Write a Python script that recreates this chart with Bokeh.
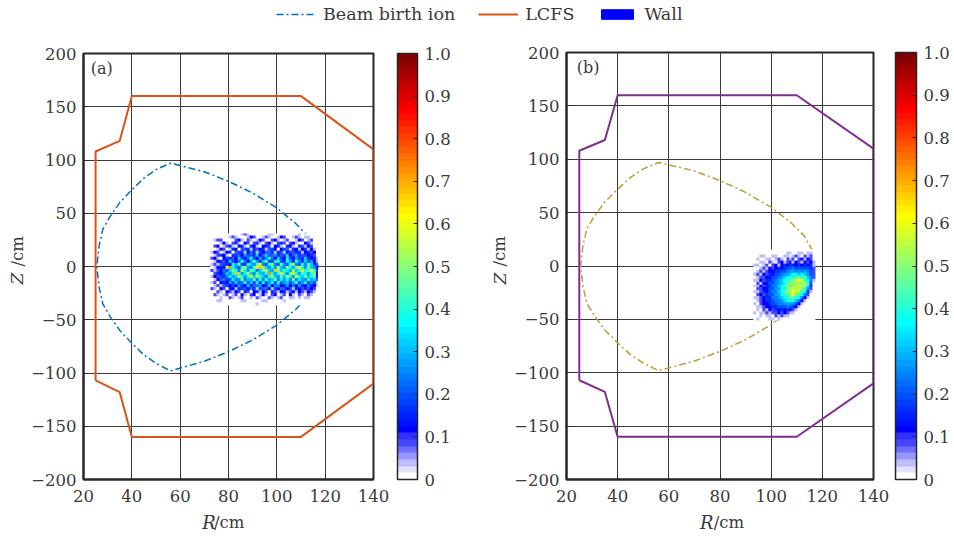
import numpy as np
from bokeh.embed import file_html
from bokeh.resources import INLINE
from bokeh.plotting import figure
from bokeh.layouts import column, row
from bokeh.models import (ColorBar, FixedTicker, Label, Legend, LegendItem,
                          LinearColorMapper, Range1d)

FONT = "DejaVu Serif"
TXT = "#3a3a3a"
DARK = "#262626"

x_ticks = [20, 40, 60, 80, 100, 120, 140]
y_ticks = [-200, -150, -100, -50, 0, 50, 100, 150, 200]
cb_ticks = [0, 0.1, 0.2, 0.3, 0.4, 0.5, 0.6, 0.7, 0.8, 0.9, 1.0]

wall_r = [25, 25, 35, 40, 110, 140, 140, 110, 40, 35, 25]
wall_z = [-107, 108, 118, 160, 160, 110, -110, -160, -160, -118, -107]

birth_r = [117, 116, 113, 108, 100, 90, 80, 70, 56, 50, 45, 40, 35, 31, 28, 26.5, 25.5,
           26.5, 28, 31, 35, 40, 45, 50, 56, 70, 80, 90, 100, 108, 113, 116, 117]
birth_z = [0, 15, 28, 40, 55, 69, 80, 89, 97, 91, 83, 72, 60, 47, 35, 20, 0,
           -20, -35, -47, -60, -72, -83, -91, -98, -89, -80, -69, -55, -40, -28, -15, 0]

# Intensity levels (unit = 0.04 of the colour scale), rows run from top to bottom
heat_unit = 0.04
heat_a_extent = [72.5, 117, -36.5, 31]
heat_a = [
    [0,0,0,0,0,0,0,0,0,0,1,2,1,0,0,0,0,0,0,1,1,0,0,0,0,0,0,0,0,1,0,0,0,0,0,0],
    [0,0,0,0,0,0,1,2,1,0,0,0,1,3,2,0,0,1,2,1,0,0,1,3,2,0,0,1,2,1,0,1,1,0,0,0],
    [0,1,2,2,0,0,0,0,2,3,1,0,2,1,0,1,3,2,0,0,2,3,1,0,1,2,0,0,1,3,2,0,1,2,0,0],
    [0,0,0,1,3,1,0,2,4,1,0,3,2,0,2,4,1,0,2,3,1,0,2,4,2,0,2,3,1,0,0,3,2,1,0,0],
    [0,2,3,0,1,2,4,1,0,3,4,1,0,4,3,1,0,3,4,2,0,3,4,1,0,4,3,1,0,4,2,1,3,2,0,0],
    [0,0,1,3,2,0,1,4,3,0,2,5,4,1,4,2,3,4,1,2,5,3,0,3,5,2,1,4,3,1,3,4,1,3,1,0],
    [1,3,2,0,1,3,4,0,2,5,4,1,3,6,4,1,5,3,2,6,4,1,4,5,1,3,5,2,4,4,1,3,4,2,3,0],
    [0,1,2,4,3,1,0,4,5,2,3,7,5,2,4,8,3,2,8,5,2,7,4,2,5,8,3,2,7,4,2,5,3,4,2,0],
    [2,3,1,0,3,5,4,2,3,8,5,3,6,9,5,3,7,4,6,10,6,3,8,5,3,9,5,3,7,5,4,8,4,3,4,1],
    [0,1,3,4,2,3,8,5,3,6,10,6,3,7,11,7,4,8,11,5,4,9,10,5,4,9,7,4,10,6,4,8,5,7,3,1],
    [1,2,1,2,5,4,3,9,7,12,5,4,10,8,6,11,15,6,5,9,13,6,5,11,7,5,10,13,6,5,10,6,11,8,4,2],
    [0,1,3,4,3,14,18,9,7,5,10,14,7,6,11,15,17,13,8,6,9,7,13,8,6,13,9,7,12,15,9,7,11,8,7,3],
    [2,1,2,3,6,5,8,12,10,6,14,9,7,12,9,6,8,11,14,8,7,17,12,8,11,9,7,13,8,10,15,9,12,14,10,4],
    [0,2,4,3,5,8,6,9,17,11,7,9,14,8,6,11,8,7,10,18,9,7,10,15,9,6,12,16,9,7,11,9,7,10,13,3],
    [1,3,2,5,4,6,9,7,8,13,10,7,9,15,8,14,10,8,6,10,13,8,7,11,8,13,9,7,14,9,8,12,8,9,11,3],
    [0,1,3,2,6,4,5,9,6,7,12,6,8,7,11,6,10,6,11,7,8,12,6,9,7,10,6,12,6,9,7,6,10,7,8,2],
    [1,2,0,3,4,3,7,5,8,5,6,10,5,8,5,9,4,9,5,7,9,5,10,5,7,8,5,7,10,5,7,9,5,7,5,1],
    [0,1,2,1,2,5,3,5,3,7,4,3,8,4,2,6,7,3,4,8,3,6,7,3,4,7,3,6,3,7,4,3,6,4,3,1],
    [2,1,0,3,2,0,4,3,1,4,5,2,3,6,4,1,5,2,6,3,1,5,3,6,2,3,5,1,4,3,2,4,2,3,2,0],
    [0,0,2,1,0,3,2,1,3,2,0,4,2,0,3,4,1,3,2,0,4,2,1,3,4,1,2,3,1,3,2,1,3,2,1,0],
    [0,2,1,0,1,2,0,1,2,0,3,1,0,2,3,0,1,3,1,0,2,3,0,1,2,0,3,1,0,2,1,0,2,1,0,0],
    [0,0,0,1,0,0,2,1,0,1,2,0,0,1,0,2,1,0,0,2,1,0,1,2,0,0,1,1,0,1,0,1,1,0,0,0],
    [0,0,1,1,0,0,0,0,0,0,1,1,0,0,0,0,0,1,1,0,0,0,0,0,1,0,0,0,0,0,0,0,0,0,0,0],
    [0,0,0,0,0,0,0,0,0,0,0,0,0,0,0,1,0,0,0,0,0,0,0,0,0,0,0,0,0,0,0,0,0,0,0,0],
]
heat_b_extent = [93, 117.3, -51, 15.5]
heat_b = [
    [0,0,0,0,0,0,0,0,0,0,0,0,0,0,0,0,0,0,0,0,0],
    [0,0,0,0,0,0,0,0,0,0,0,1,1,0,0,1,1,0,1,1,0],
    [0,0,1,1,0,0,1,1,0,0,1,1,0,1,2,1,0,2,1,2,0],
    [0,1,0,0,1,1,0,1,2,1,0,2,1,2,0,2,3,1,3,2,0],
    [0,0,1,1,0,2,1,0,2,3,1,2,3,1,3,2,1,3,2,3,1],
    [1,1,0,1,2,0,2,3,1,3,4,3,4,4,3,4,3,4,3,4,1],
    [0,0,1,2,1,3,2,3,4,3,4,5,5,6,5,5,5,5,5,4,2],
    [0,1,2,1,2,3,3,4,4,5,5,6,7,7,6,7,6,7,6,5,2],
    [1,2,1,3,2,4,3,5,5,6,7,7,8,9,9,8,9,8,7,5,2],
    [0,1,2,2,3,3,5,5,6,7,8,9,10,10,11,12,10,11,8,6,2],
    [1,1,3,2,4,4,5,6,7,8,10,10,11,12,13,16,14,11,9,6,1],
    [0,2,1,3,3,5,5,6,7,8,9,11,12,13,14,13,12,14,10,5,0],
    [1,1,3,2,4,4,6,6,8,9,11,12,17,12,13,14,15,12,9,4,0],
    [0,2,2,3,3,5,5,7,7,9,10,12,13,14,13,16,12,11,7,2,0],
    [1,1,2,4,3,5,6,6,8,9,11,13,12,15,14,13,11,9,4,1,0],
    [0,2,3,2,4,5,5,7,7,9,10,11,13,16,12,11,9,6,2,0,0],
    [1,1,2,3,4,4,6,6,7,8,9,10,12,12,10,9,6,3,1,0,0],
    [0,1,2,3,4,4,5,6,6,7,8,9,10,9,8,6,3,1,0,0,0],
    [1,0,2,3,3,4,5,5,6,6,7,7,7,7,5,3,1,0,0,0,0],
    [0,1,1,2,3,3,4,4,5,5,5,6,5,4,3,1,0,0,0,0,0],
    [0,1,0,2,1,3,2,4,3,4,3,4,3,2,1,0,0,0,0,0,0],
    [1,0,1,1,2,1,2,2,3,2,3,2,1,1,0,0,0,0,0,0,0],
    [0,0,1,0,1,1,0,2,1,2,1,1,0,0,0,0,0,0,0,0,0],
    [0,1,0,0,0,1,1,0,1,0,0,0,0,0,0,0,0,0,0,0,0],
]


def jet_palette():
    pts = [(255, 255, 255), (225, 225, 255), (190, 190, 255), (150, 150, 255), (110, 110, 255), (70, 70, 255), (50, 50, 255)]
    out = ["#%02x%02x%02x" % p for p in pts]
    for t in range(8, 65):
        r = np.clip((t - 24) / 16, 0, 1) if t <= 56 else 1 - (t - 56) / 16
        g = np.clip((t - 8) / 16, 0, 1) if t <= 40 else np.clip(1 - (t - 40) / 16, 0, 1)
        b = 1 if t <= 24 else np.clip(1 - (t - 24) / 16, 0, 1)
        out.append("#%02x%02x%02x" % (int(r * 255), int(g * 255), int(b * 255)))
    return out


PALETTE = jet_palette()


def panel(tag, heat, ext, birth_color, wall_color, left, frame_w, frame_h, top, width, cb_gap, cb_w, tag_x):
    height = 471
    p = figure(width=width, height=height, frame_width=frame_w, frame_height=frame_h,
               x_range=Range1d(20, 140), y_range=Range1d(-200, 200),
               output_backend="svg", toolbar_location=None,
               min_border_left=left, min_border_right=width - left - frame_w, min_border_top=top,
               min_border_bottom=height - frame_h - top)
    p.background_fill_color = "white"
    p.outline_line_color = DARK
    p.outline_line_width = 2
    p.outline_line_alpha = 1

    for ax in (p.xaxis[0], p.yaxis[0]):
        ax.axis_line_color = DARK
        ax.axis_line_width = 2
        ax.major_tick_in = 4
        ax.major_tick_out = 0
        ax.minor_tick_in = 0
        ax.minor_tick_out = 0
        ax.major_tick_line_color = DARK
        ax.major_label_text_font = FONT
        ax.major_label_text_font_size = "16.5px"
        ax.major_label_text_color = TXT
    p.xaxis[0].ticker = FixedTicker(ticks=x_ticks)
    p.yaxis[0].ticker = FixedTicker(ticks=y_ticks)
    p.yaxis[0].major_label_overrides = {t: "\u2212%d" % abs(t) for t in y_ticks if t < 0}
    p.xaxis[0].major_label_standoff = 10
    p.yaxis[0].major_label_standoff = 7
    p.xgrid[0].ticker = FixedTicker(ticks=x_ticks)
    p.ygrid[0].ticker = FixedTicker(ticks=y_ticks)
    for g in (p.xgrid[0], p.ygrid[0]):
        g.grid_line_color = "#3a3a3a"
        g.grid_line_width = 1

    p.line(wall_r, wall_z, line_color=wall_color, line_width=2)
    p.line(birth_r, birth_z, line_color=birth_color, line_width=1.5, line_dash="7 3 2 3")

    mapper = LinearColorMapper(palette=PALETTE, low=0, high=1)
    arr = np.flipud(np.array(heat, dtype=float) * heat_unit)
    p.image(image=[arr], x=ext[0], y=ext[2], dw=ext[1] - ext[0], dh=ext[3] - ext[2], color_mapper=mapper)

    cb = ColorBar(color_mapper=mapper, ticker=FixedTicker(ticks=cb_ticks), width=cb_w, height=frame_h,
                  padding=0, margin=0, location=(cb_gap, 0),
                  major_tick_in=4, major_tick_line_color=DARK, bar_line_color=DARK, bar_line_width=1.5,
                  major_label_text_font=FONT, major_label_text_font_size="16.5px", major_label_text_color=TXT,
                  label_standoff=7, major_label_overrides={1: "1.0"}, border_line_color=None)
    p.add_layout(cb, "right")

    p.add_layout(Label(x=tag_x, y=186, text=tag, text_baseline="middle", text_font=FONT,
                       text_font_size="16px", text_color=TXT))
    return p


def strip(width, height, xr, yr):
    s = figure(width=width, height=height, x_range=Range1d(*xr), y_range=Range1d(*yr),
               output_backend="svg", toolbar_location=None, min_border=0)
    s.axis.visible = False
    s.grid.visible = False
    s.outline_line_color = None
    return s


LAB = dict(text_font=FONT, text_color=TXT, text_baseline="middle")


def r_strip(width, x0, r_page, cm_page):
    s = strip(width, 26, (x0, x0 + width), (535, 509))
    s.add_layout(Label(x=r_page, y=522, text="R", text_font_style="italic", text_font_size="18px", **LAB))
    s.add_layout(Label(x=cm_page, y=522, text="/cm", text_font_size="16.5px", **LAB))
    return s


def z_strip(width, x0, cx):
    s = strip(width, 497, (x0, x0 + width), (535, 38))
    s.add_layout(Label(x=cx, y=284, text="Z", angle=np.pi / 2, text_font_style="italic", text_font_size="17px", **LAB))
    s.add_layout(Label(x=cx, y=266, text="/cm", angle=np.pi / 2, text_font_size="16.5px", **LAB))
    return s


pa = panel("(a)", heat_a, heat_a_extent, "#0072BD", "#D95319", 57, 290, 426, 15, 462, 24, 20, 23)
pb = panel("(b)", heat_b, heat_b_extent, "#B8A035", "#7E2F8E", 57, 307, 427, 14, 444, 22, 21, 24)

# legend strip (its samples lie outside the visible range)
lg = strip(950, 38, (0, 1), (0, 1))
r1 = lg.line([2, 3], [2, 2], line_color="#0072BD", line_width=1.5, line_dash="7 3 2 3")
r2 = lg.line([2, 3], [2, 2], line_color="#D95319", line_width=2)
r3 = lg.quad(left=[2], right=[3], top=[3], bottom=[2], fill_color="#0000FF", line_color="#0000FF")
leg = Legend(items=[LegendItem(label="Beam birth ion", renderers=[r1]),
                    LegendItem(label="LCFS", renderers=[r2]),
                    LegendItem(label="Wall", renderers=[r3])],
             orientation="horizontal", location=(276, 14), border_line_color=None, background_fill_alpha=0,
             glyph_width=40, glyph_height=12, label_text_font=FONT, label_text_font_size="17.5px",
             label_text_color=TXT, spacing=23, label_standoff=7, padding=2, margin=0)
lg.add_layout(leg, "center")

layout = column(
    lg,
    row(z_strip(26, 0, 16.5), column(pa, r_strip(462, 26, 215, 234), spacing=0),
        z_strip(21, 488, 499), column(pb, r_strip(444, 509, 702, 722), spacing=0), spacing=0),
    spacing=0)
open("out.html", "w").write(file_html(layout, INLINE))
